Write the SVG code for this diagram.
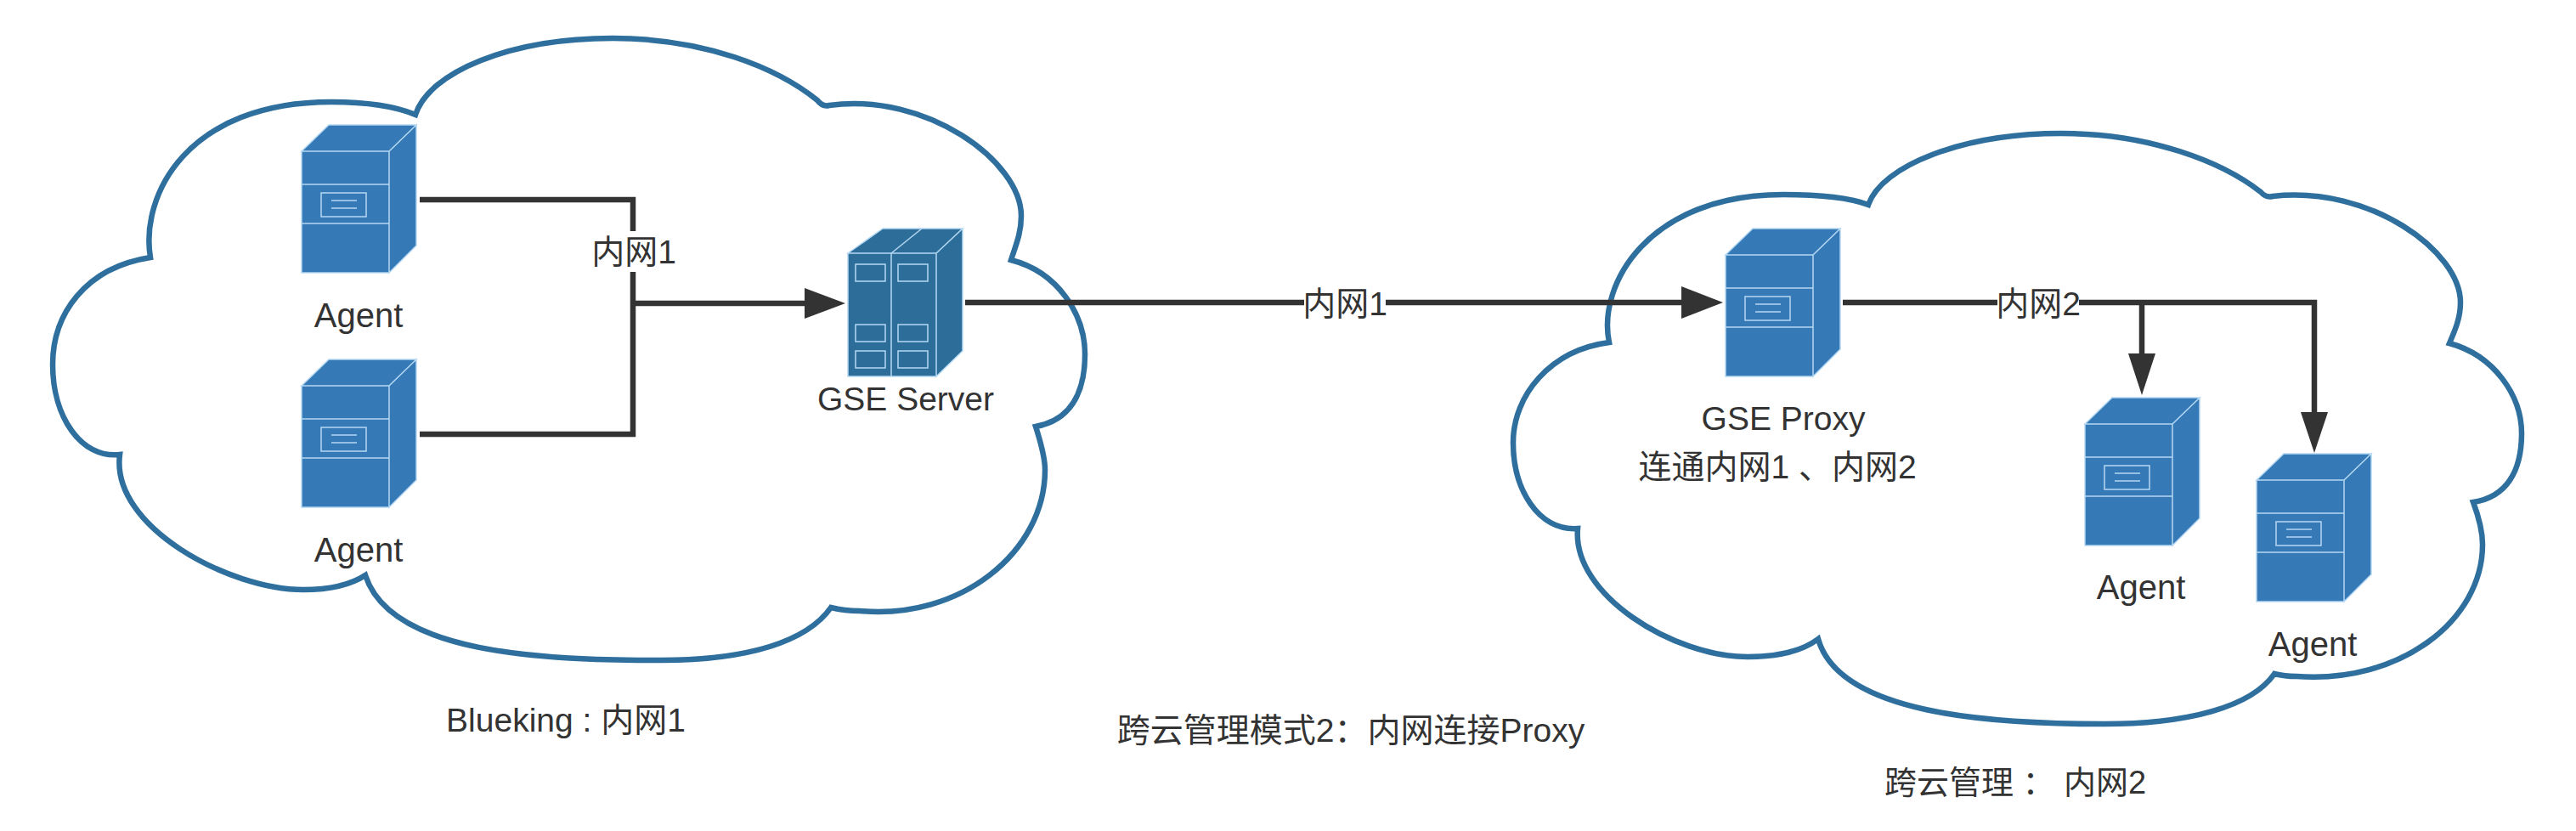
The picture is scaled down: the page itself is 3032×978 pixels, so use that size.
<svg xmlns="http://www.w3.org/2000/svg" xmlns:xlink="http://www.w3.org/1999/xlink" width="3032" height="978" viewBox="0 0 3032 978">
<style>
text{font-family:"Liberation Sans","Noto Sans CJK SC",sans-serif;font-size:39px;fill:#333;text-anchor:middle}
.agent{font-size:40px}
.cloud{fill:#fff;stroke:#2f6f9e;stroke-width:6.500;stroke-linejoin:miter}
.wire{fill:none;stroke:#333;stroke-width:6.500}
.head{fill:#333}
.bg{fill:#fff}
.hw{stroke:#b5d8f2;stroke-width:1.5}
.hw path,.hw rect{stroke:#b5d8f2}
.in{fill:none}
</style>
<defs>
<g id="server" class="hw">
<path fill="#357ab7" d="M0 31L32 0H135L103 31ZM103 31L135 0V142L103 174ZM0 31H103V174H0Z"/>
<path class="in" d="M0 70H103M0 116H103M35 89H65M35 98H65"/>
<rect class="in" x="23" y="80" width="53" height="28"/>
</g>
</defs>
<g id="cloud-left"><path class="cloud" d="M489 135C505 85 600 45 721 45C830 45 915 80 962 118Q968 126 976 124C1090 108 1202 190 1202 254C1202 275 1195 290 1190 306C1245 320 1277 370 1277 417C1277 465 1258 495 1219 502C1228 530 1230 545 1230 553C1230 650 1130 730 1012 719C1000 719 990 718 978 715C950 755 880 777 779 777C640 777 460 770 430 677C410 690 385 694 357 694C270 694 130 620 141 535C95 540 62 490 62 429C62 370 100 315 177 303C165 230 220 120 390 120C430 120 465 125 489 135Z"/></g>
<g id="cloud-right"><path class="cloud" d="M2199 241C2215 195 2310 157 2426 157C2530 157 2615 190 2661 226Q2667 233 2675 231C2790 218 2896 296 2896 356C2896 375 2889 390 2883 404C2935 418 2968 465 2968 510C2968 555 2950 585 2911 591C2920 615 2922 630 2922 641C2922 730 2825 805 2703 796C2695 796 2685 795 2677 793C2650 832 2575 852 2477 852C2340 852 2165 840 2140 752C2120 767 2090 773 2057 773C1970 773 1850 700 1857 622C1810 625 1781 575 1781 521C1781 465 1825 412 1894 403C1880 335 1940 229 2099 229C2140 229 2175 232 2199 241Z"/></g>
<g id="connectors">
<path class="wire" d="M494 235H745V511H494M745 357H955"/>
<path class="head" d="M947 339L995 357L947 375Z"/>
<path class="wire" d="M1136 356H1985"/>
<path class="head" d="M1979 337L2028 356L1979 375Z"/>
<path class="wire" d="M2169 356H2724V490M2521 356V425"/>
<path class="head" d="M2708 485L2724 533L2740 485ZM2505 416L2521 465L2537 416Z"/>
<rect class="bg" x="697" y="272" width="96" height="48"/>
<text x="746" y="310">内网1</text>
<rect class="bg" x="1535" y="335" width="96" height="44"/>
<text x="1583" y="371">内网1</text>
<rect class="bg" x="2351" y="335" width="96" height="44"/>
<text x="2399" y="371">内网2</text>
</g>
<g id="agent-1"><use xlink:href="#server" href="#server" x="355" y="147"/><text class="agent" x="422" y="385">Agent</text></g>
<g id="agent-2"><use xlink:href="#server" href="#server" x="355" y="423"/><text class="agent" x="422" y="661">Agent</text></g>
<g id="gse-server" class="hw">
<path fill="#2d6d99" d="M998 298L1039 269H1133L1102 298ZM1102 298L1133 269V413L1102 443ZM998 298H1102V443H998Z"/>
<path class="in" d="M1049 298V443M1049 298L1085 269"/>
<path class="in" d="M1007 311h35v20h-35zM1057 311h35v20h-35zM1007 382h35v20h-35zM1057 382h35v20h-35zM1007 413h35v20h-35zM1057 413h35v20h-35z"/>
</g>
<g id="gse-server-label"><text x="1066" y="483">GSE Server</text></g>
<g id="gse-proxy"><use xlink:href="#server" href="#server" x="2031" y="269"/><text x="2099" y="506">GSE Proxy</text><text x="2092" y="563">连通内网1 、内网2</text></g>
<g id="agent-3"><use xlink:href="#server" href="#server" x="2454" y="468"/><text class="agent" x="2520" y="705">Agent</text></g>
<g id="agent-4"><use xlink:href="#server" href="#server" x="2656" y="534"/><text class="agent" x="2722" y="772">Agent</text></g>
<g id="captions">
<text x="666" y="861">Blueking : 内网1</text>
<text x="1590" y="873">跨云管理模式2：内网连接Proxy</text>
<text x="2372" y="934" font-size="38" style="font-size:38px">跨云管理 ： 内网2</text>
</g>
</svg>
